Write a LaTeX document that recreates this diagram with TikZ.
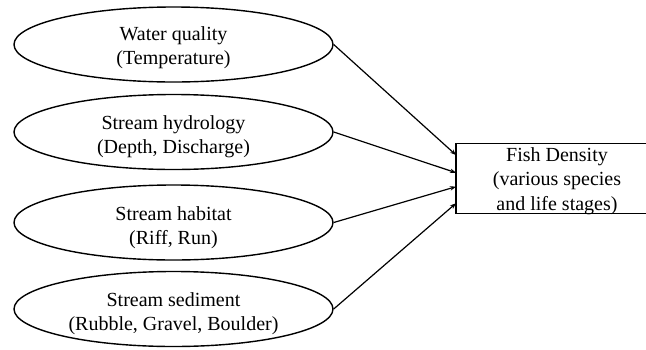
\documentclass[tikz,border=0pt]{standalone}
\usepackage{fontspec}
\setmainfont{Liberation Serif}
\usetikzlibrary{arrows.meta,shapes.geometric}
\begin{document}
\begin{tikzpicture}[x=1pt,y=-1pt,
  factor/.style={draw=black,line width=1.4pt,ellipse,minimum width=319pt,minimum height=75pt,inner sep=0pt},
  txt/.style={align=center,inner sep=0pt,font=\fontsize{20}{24.3}\selectfont},
  outbox/.style={draw=black,line width=1.4pt,rectangle,minimum width=202pt,minimum height=70pt,inner sep=0pt},
  link/.style={line width=1.2pt,-{Stealth[length=6pt,width=4.5pt]}}]
\useasboundingbox (0,0) rectangle (646,349);
% ellipses
\node[factor] (e1) at (173.5,44.5) {};
\node[factor] (e2) at (173.5,132) {};
\node[factor] (e3) at (173.5,222.5) {};
\node[factor] (e4) at (173.5,309) {};
\node[txt] (t1) at (173.5,48) {Water quality\\(Temperature)};
\node[txt] (t2) at (173.5,137) {Stream hydrology\\(Depth, Discharge)};
\node[txt] (t3) at (173.5,228) {Stream habitat\\(Riff, Run)};
\node[txt] (t4) at (173.5,313.5) {Stream sediment\\(Rubble, Gravel, Boulder)};
% box
\node[outbox] (fd) at (557,178.3) {};
\node[txt] (fdt) at (557,181.2) {Fish Density\\(various species\\and life stages)};
\coordinate (p1) at (456,155);
\coordinate (p2) at (456,172.7);
\coordinate (p3) at (456,186.7);
\coordinate (p4) at (456,203.3);
\draw[link] (e1.east) -- (p1);
\draw[link] (e2.east) -- (p2);
\draw[link] (e3.east) -- (p3);
\draw[link] (e4.east) -- (p4);
\end{tikzpicture}
\end{document}
